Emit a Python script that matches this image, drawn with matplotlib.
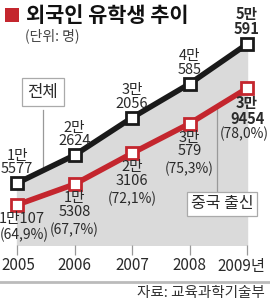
import matplotlib
matplotlib.use("Agg")
from matplotlib import pyplot as plt
from matplotlib.patches import Rectangle
from matplotlib.lines import Line2D
import matplotlib.transforms as mtransforms

plt.rcParams['font.family'] = ['Noto Sans CJK KR', 'DejaVu Sans']

# data
years = [2005, 2006, 2007, 2008, 2009]
year_labels = ['2005', '2006', '2007', '2008', '2009년']
total = [15577, 22624, 32056, 40585, 50591]  # 전체
chinese = [10107, 15308, 23106, 30579, 39454]  # 중국 출신
total_labels = ['1만\n5577', '2만\n2624', '3만\n2056', '4만\n585', '5만\n591']
chinese_labels = ['1만107', '1만\n5308', '2만\n3106', '3만\n579', '3만\n9454']
chinese_pct = ['(64,9%)', '(67,7%)', '(72,1%)', '(75,3%)', '(78,0%)']

RED = '#c4262e'
BLACK = '#1a1a1a'
GRAY = '#dadada'
TXT = '#2a2a2a'

fig = plt.figure(figsize=(2.7, 3.02), dpi=100)
ax = fig.add_axes([0, 57 / 302, 1, 245 / 302])
ax.set_xlim(2004.704, 2009.4)
ax.set_ylim(0, 61700)
for s in ax.spines.values():
    s.set_visible(False)
ax.set_yticks([])

# gray area under total line
ax.fill_between(years, total, 0, color=GRAY, zorder=1)

# leader lines for the boxes
x_t = 2005.45
ax.plot([x_t, x_t], [34000, 18700], color='#999999', lw=0.9, zorder=2)
x_c = 2008.478
ax.plot([x_c, x_c], [12500, 34800], color='#999999', lw=0.9, zorder=2)

ax.plot(years, total, color=BLACK, lw=4, marker='s', ms=8, mfc='white',
        mec=BLACK, mew=2, zorder=4, solid_joinstyle='miter')
ax.plot(years, chinese, color=RED, lw=4, marker='s', ms=8, mfc='white',
        mec=RED, mew=2, zorder=4, solid_joinstyle='miter')

FS = 10.5
LINE = 15.5
# labels
for i, (x, v) in enumerate(zip(years, total)):
    w = 'bold' if i == len(years) - 1 else 'normal'
    ax.annotate(total_labels[i], (x, v), xytext=(0, 7), textcoords='offset pixels',
                ha='center', va='bottom', fontsize=FS, color=TXT, fontweight=w,
                linespacing=0.95, zorder=5)

for i, (x, v) in enumerate(zip(years, chinese)):
    w = 'bold' if i == len(years) - 1 else 'normal'
    dx = 5 if i == 0 else 0
    ax.annotate(chinese_labels[i], (x, v), xytext=(dx, -7), textcoords='offset pixels',
                ha='center', va='top', fontsize=FS, color=TXT, fontweight=w,
                linespacing=0.95, zorder=5)
    nlines = chinese_labels[i].count('\n') + 1
    pdx = 7 if i == 0 else (-3 if i == len(years) - 1 else 0)
    ax.annotate(chinese_pct[i], (x, v), xytext=(pdx, -7 - LINE * nlines), textcoords='offset pixels',
                ha='center', va='top', fontsize=10, color=TXT, zorder=5)

# series name boxes
ax.text(x_t, 38500, '전체', ha='center', va='center', fontsize=12, color=TXT, zorder=6,
        bbox=dict(boxstyle='square,pad=0.32', fc='white', ec='#aaaaaa', lw=0.9))
ax.text(2008.565, 10330, '중국 출신', ha='center', va='center', fontsize=11.5, color=TXT, zorder=6,
        bbox=dict(boxstyle='square,pad=0.22', fc='white', ec='#aaaaaa', lw=0.9))

# x axis
ax.set_xticks(years)
ax.set_xticklabels(year_labels)
ax.tick_params(axis='x', length=7, width=0.9, color='#999999', labelsize=11,
               labelcolor=TXT, pad=2)
first = ax.get_xticklabels()[0]
first.set_transform(first.get_transform() + mtransforms.ScaledTranslation(1.5 / 100, 0, fig.dpi_scale_trans))
last = ax.get_xticklabels()[-1]
last.set_transform(last.get_transform() + mtransforms.ScaledTranslation(-6 / 100, 0, fig.dpi_scale_trans))

# title
fig.add_artist(Rectangle((5 / 270, 1 - 22 / 302), 14 / 270, 14 / 302,
                         transform=fig.transFigure, color=RED, lw=0))
fig.text(26 / 270, 1 - 15 / 302, '외국인 유학생 추이', ha='left', va='center',
         fontsize=15, fontweight='bold', color='#111111')
fig.text(25 / 270, 1 - 36 / 302, '(단위: 명)', ha='left', va='center',
         fontsize=10, color='#444444')

# bottom rule and source
fig.add_artist(Line2D([0, 1], [1 - 282 / 302] * 2, transform=fig.transFigure,
                      color='#bbbbbb', lw=2))
fig.text(265 / 270, 1 - 293 / 302, '자료: 교육과학기술부', ha='right', va='center',
         fontsize=10.5, color='#333333')

fig.savefig('out.png', dpi=100)
